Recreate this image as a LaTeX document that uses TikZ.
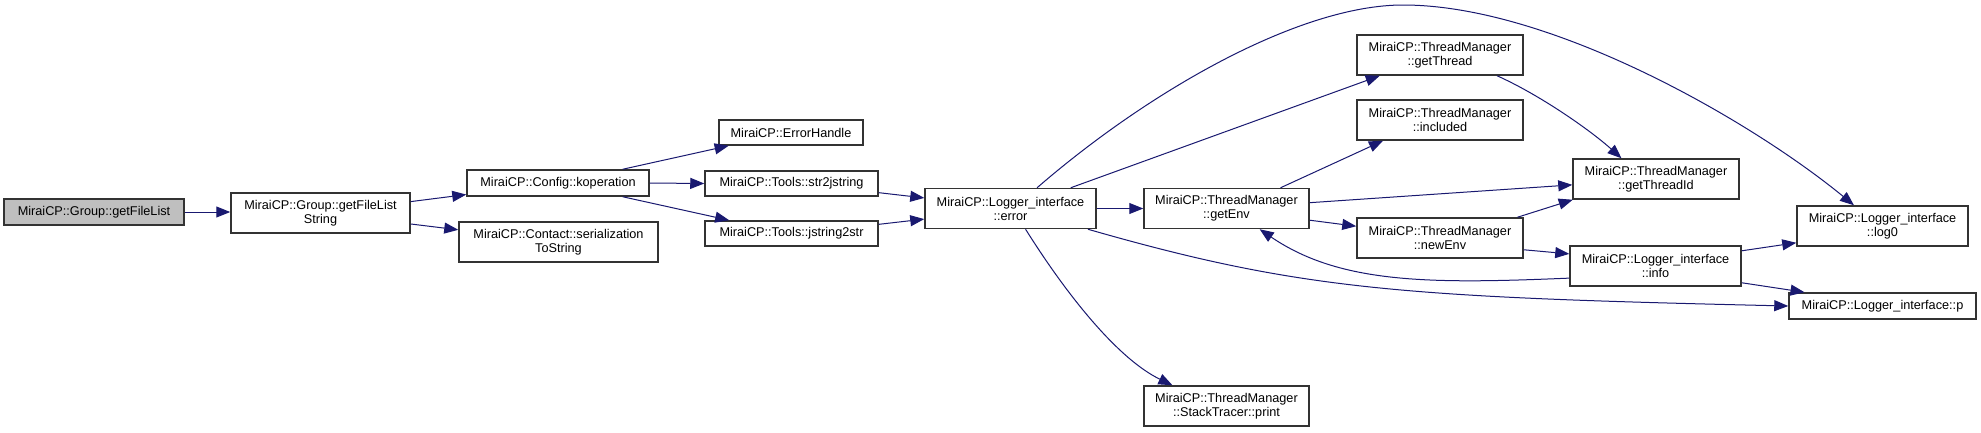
\documentclass[tikz,border=0pt]{standalone}
\usepackage{fontspec}
\setmainfont{Liberation Sans}
\usetikzlibrary{arrows.meta}
\definecolor{edgec}{HTML}{191970}
\definecolor{boxfill}{HTML}{BFBFBF}
\definecolor{boxline}{HTML}{333333}
\begin{document}
\begin{tikzpicture}[x=1pt,y=-1pt,
  fn/.style={draw=boxline, line width=1.5pt, fill=white, inner sep=0pt, align=center,
    font=\fontsize{12.7}{14}\selectfont, text=black},
  one/.style={minimum height=26pt},
  two/.style={minimum height=40pt},
  ed/.style={draw=edgec, line width=1pt, -{Triangle[length=14pt,width=11pt]}}]
\fill[white] (0,0) rectangle (1981,432);
\useasboundingbox (0,0) rectangle (1981,432);

\node[fn, one, minimum width=180pt, fill=boxfill] (gfl) at (94,212) {MiraiCP::Group::getFileList};
\node[fn, two, minimum width=179pt] (gfls) at (320.5,213) {MiraiCP::Group::getFileList\\String};
\node[fn, one, minimum width=182pt] (kop) at (558,183) {MiraiCP::Config::koperation};
\node[fn, two, minimum width=199pt] (ser) at (558.5,242) {MiraiCP::Contact::serialization\\ToString};
\node[fn, minimum height=25pt, minimum width=144pt] (eh) at (791,132.5) {MiraiCP::ErrorHandle};
\node[fn, minimum height=25pt, minimum width=173pt] (s2j) at (791.5,183.5) {MiraiCP::Tools::str2jstring};
\node[fn, minimum height=25pt, minimum width=173pt] (j2s) at (791.5,233.5) {MiraiCP::Tools::jstring2str};
\node[fn, two, minimum width=171pt] (err) at (1010.5,208.5) {MiraiCP::Logger\_interface\\::error};
\node[fn, two, minimum width=166pt] (gt) at (1440,55) {MiraiCP::ThreadManager\\::getThread};
\node[fn, two, minimum width=166pt] (inc) at (1440,120) {MiraiCP::ThreadManager\\::included};
\node[fn, two, minimum width=165pt] (ge) at (1226.5,208.5) {MiraiCP::ThreadManager\\::getEnv};
\node[fn, two, minimum width=166pt] (ne) at (1440,238) {MiraiCP::ThreadManager\\::newEnv};
\node[fn, two, minimum width=165pt] (stp) at (1226.5,406) {MiraiCP::ThreadManager\\::StackTracer::print};
\node[fn, two, minimum width=166pt] (gti) at (1656,179) {MiraiCP::ThreadManager\\::getThreadId};
\node[fn, two, minimum width=171pt] (log0) at (1882.5,226) {MiraiCP::Logger\_interface\\::log0};
\node[fn, two, minimum width=171pt] (info) at (1655.5,266) {MiraiCP::Logger\_interface\\::info};
\node[fn, one, minimum width=187pt] (p) at (1882.5,306) {MiraiCP::Logger\_interface::p};

\draw[ed] (gfl.east) -- (gfl.east -| gfls.west);
\draw[ed] (gfls) -- (kop);
\draw[ed] (gfls) -- (ser);
\draw[ed] (kop.12) -- (eh.192);
\draw[ed] (kop.east) -- (s2j.west);
\draw[ed] (kop.348) -- (j2s.168);
\draw[ed] (s2j.354) -- (err.173);
\draw[ed] (j2s.6) -- (err.187);
\draw[ed] (err.east) -- (ge.west);
\draw[ed] (err.19.5) -- (gt.199);
\draw[ed] (err.38) .. controls (1150,90) and (1300,5) .. (1403,5) .. controls (1550,5) and (1750,120) .. (log0.144);
\draw[ed] (err.345) .. controls (1300,290) and (1400,297) .. (p.180);
\draw[ed] (err.306) .. controls (1070,300) and (1120,360) .. (stp.159);
\draw[ed] (ge.21) -- (inc.200);
\draw[ed] (ge.4) -- (gti.184);
\draw[ed] (ge.352.4) -- (ne.172.5);
\draw[ed] (gt.340) .. controls (1540,95) and (1590,130) .. (gti.149);
\draw[ed] (ne.15) -- (gti.194);
\draw[ed] (ne.352.5) -- (info.172.7);
\draw[ed] (info.188) .. controls (1430,284) and (1340,284) .. (ge.328);
\draw[ed] (info.10.6) -- (log0.191);
\draw[ed] (info.349.4) -- (p.170);
\end{tikzpicture}
\end{document}
